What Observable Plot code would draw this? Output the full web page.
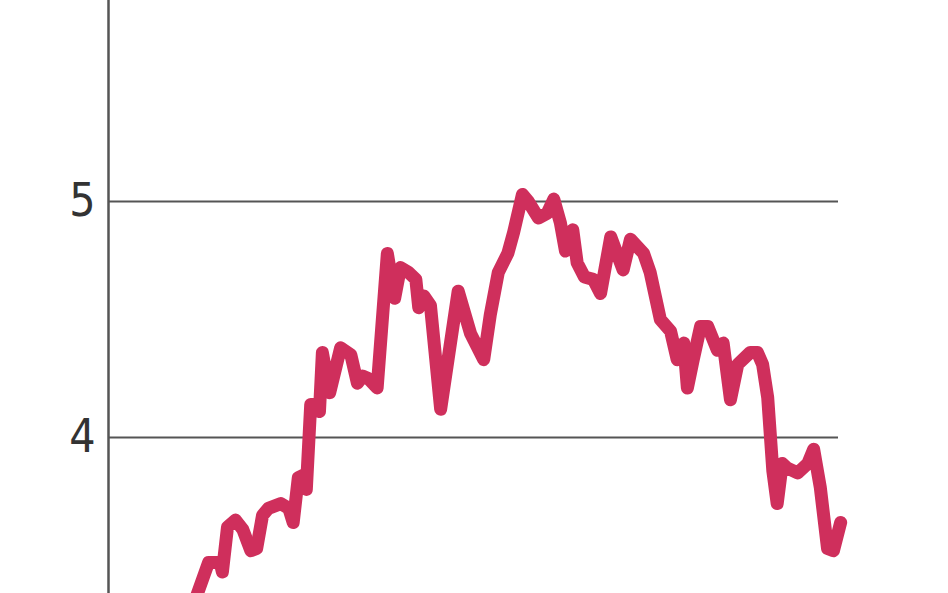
<!DOCTYPE html>
<html>
<head>
<meta charset="utf-8">
<script src="https://cdn.jsdelivr.net/npm/d3@7"></script>
<script src="https://cdn.jsdelivr.net/npm/@observablehq/plot@0.6"></script>
<style>
  html, body { margin: 0; padding: 0; background: #fff; overflow: hidden; }
  #chart svg { display: block; }
  #chart svg text { font-stretch: condensed; }
</style>
</head>
<body>
<div id="chart"></div>
<script>
// Time position (0–100 across the plotted span) and values
const t = [11.2, 12.2, 13.7, 15.3, 15.6, 16.3, 17.4, 18.4, 19.5, 20.3, 21.1, 21.9, 23.6, 24.7, 25.3,
  26.0, 26.7, 27.1, 27.7, 28.5, 28.9, 29.3, 30.3, 31.8, 33.2, 34.1, 34.8, 35.6, 36.8, 38.2,
  39.2, 40.0, 41.1, 42.1, 42.5, 43.2, 44.1, 45.5, 47.9, 49.6, 51.4, 52.3, 53.4, 54.7, 55.5,
  56.7, 57.5, 58.9, 60.1, 61.0, 61.9, 62.6, 63.6, 64.2, 65.2, 66.4, 67.4, 68.8, 70.5, 71.5,
  73.3, 74.2, 75.6, 77.0, 77.9, 78.8, 79.3, 80.1, 81.1, 82.1, 83.4, 84.2, 85.2, 86.2, 87.9,
  88.9, 89.6, 90.3, 91.0, 91.6, 92.3, 93.0, 94.4, 95.8, 96.6, 97.5, 98.5, 99.3, 100.3];
const values = [3.25, 3.34, 3.47, 3.47, 3.43, 3.62, 3.65, 3.61, 3.52, 3.53, 3.67, 3.70, 3.72, 3.70, 3.64,
  3.83, 3.84, 3.78, 4.14, 4.14, 4.11, 4.36, 4.19, 4.38, 4.35, 4.23, 4.26, 4.25, 4.21, 4.78,
  4.59, 4.72, 4.70, 4.67, 4.55, 4.60, 4.56, 4.12, 4.62, 4.44, 4.33, 4.52, 4.70, 4.78, 4.87,
  5.03, 5.00, 4.93, 4.95, 5.01, 4.91, 4.79, 4.88, 4.74, 4.68, 4.67, 4.61, 4.85, 4.71, 4.84,
  4.78, 4.70, 4.50, 4.45, 4.33, 4.40, 4.21, 4.33, 4.47, 4.47, 4.37, 4.40, 4.16, 4.31, 4.36,
  4.36, 4.31, 4.17, 3.86, 3.72, 3.89, 3.87, 3.85, 3.89, 3.95, 3.79, 3.53, 3.52, 3.64];
const yTicks = [4, 5];

const data = t.map((x, i) => ({x, y: values[i]}));

const chart = Plot.plot({
  width: 948,
  height: 593,
  marginLeft: 108,
  marginRight: 110,
  marginTop: 0,
  marginBottom: 0,
  x: {domain: [0, 100], axis: null},
  y: {domain: [3.339, 5.8517]},
  style: {background: "#fff", fontFamily: "'DejaVu Sans Condensed', 'Liberation Sans Narrow', 'Roboto', sans-serif"},
  marks: [
    Plot.ruleY(yTicks, {stroke: "#555", strokeWidth: 2}),
    Plot.ruleX([0], {stroke: "#555", strokeWidth: 2.5}),
    Plot.axisY(yTicks, {tickSize: 0, tickPadding: 13, fontSize: 46, fill: "#333", label: null, tickFormat: "d"}),
    Plot.line(data, {x: "x", y: "y", stroke: "#cf2f5c", strokeWidth: 13,
      strokeLinejoin: "round", strokeLinecap: "round"})
  ]
});
document.getElementById("chart").appendChild(chart);
</script>
</body>
</html>
